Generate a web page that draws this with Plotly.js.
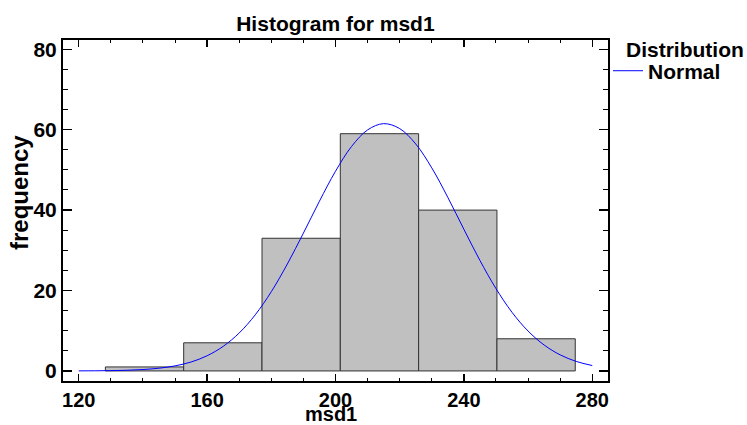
<!DOCTYPE html>
<html>
<head>
<meta charset="utf-8">
<script src="https://cdn.plot.ly/plotly-3.0.1.min.js"></script>
<style>html,body{margin:0;padding:0;background:#fff;}#chart{width:747px;height:425px;}</style>
</head>
<body>
<div id="chart"></div>
<script>
// Histogram bins (left edges), bin width and counts
var binLeftEdges = [128.3, 152.7, 177.1, 201.5, 225.9, 250.3];
var binWidth = 24.4;
var counts = [1, 7, 33, 59, 40, 8];

// Fitted normal curve
var curveX = [120,125,130,135,140,145,150,155,160,165,170,175,180,185,190,195,200,205,210,215,220,225,230,235,240,245,250,255,260,265,270,275,280];
var curveY = [0.02,0.04,0.08,0.17,0.35,0.68,1.26,2.22,3.78,6.11,9.44,13.96,19.71,26.6,34.27,42.21,49.66,55.82,59.94,61.5,60.27,56.44,50.49,43.15,35.23,27.48,20.48,14.58,9.92,6.45,4.0,2.37,1.34];

var xTickVals = [120, 160, 200, 240, 280];
var yTickVals = [0, 20, 40, 60, 80];

var FONT = 'Liberation Sans, Arial, sans-serif';
var boldFont = function(size){ return {family: FONT, size: size, color: '#000', weight: 700}; };

var traces = [
  {
    type: 'bar',
    x: binLeftEdges,
    y: counts,
    width: binLeftEdges.map(function(){ return binWidth; }),
    offset: 0,
    marker: {color: '#c0c0c0', line: {color: '#333333', width: 1}},
    showlegend: false,
    hoverinfo: 'skip'
  },
  {
    type: 'scatter',
    mode: 'lines',
    x: curveX,
    y: curveY,
    name: 'Normal',
    line: {color: '#0000ff', width: 1, shape: 'spline'}
  }
];

var layout = {
  width: 747,
  height: 425,
  margin: {l: 63, r: 139, t: 40, b: 44},
  paper_bgcolor: '#fff',
  plot_bgcolor: '#fff',
  bargap: 0,
  title: {text: 'Histogram for msd1', font: boldFont(21), x: 0.449, xanchor: 'center', y: 0.945, yanchor: 'middle'},
  xaxis: {
    range: [115.1, 284.9],
    tickvals: xTickVals,
    ticktext: xTickVals.map(String),
    ticks: 'inside', ticklen: 7, tickwidth: 1.5, tickcolor: '#000',
    minor: {dtick: 10, tick0: 120, ticks: 'inside', ticklen: 3, tickwidth: 1, tickcolor: '#000'},
    showline: true, linecolor: '#000', linewidth: 2, mirror: 'ticks',
    showgrid: false, zeroline: false,
    tickfont: boldFont(20)
  },
  yaxis: {
    range: [-2.5, 82.3],
    tickvals: yTickVals,
    ticktext: yTickVals.map(String),
    ticks: 'inside', ticklen: 9, tickwidth: 1.5, tickcolor: '#000',
    minor: {dtick: 5, tick0: 0, ticks: 'inside', ticklen: 5, tickwidth: 1, tickcolor: '#000'},
    showline: true, linecolor: '#000', linewidth: 2, mirror: 'ticks',
    showgrid: false, zeroline: false,
    tickfont: boldFont(21)
  },
  showlegend: true,
  legend: {
    x: 1.0, xanchor: 'left', y: 0.969, yanchor: 'top',
    bgcolor: 'rgba(0,0,0,0)', borderwidth: 0,
    font: boldFont(21), itemwidth: 30
  },
  annotations: [
    {text: 'Distribution', xref: 'paper', yref: 'paper', x: 1.0294, xanchor: 'left', y: 0.971, yanchor: 'middle', showarrow: false, font: boldFont(21)},
    {text: 'msd1', xref: 'paper', yref: 'paper', x: 0.4916, xanchor: 'center', y: -0.061, yanchor: 'top', borderpad: 0, showarrow: false, font: boldFont(20)},
    {text: 'frequency', xref: 'paper', yref: 'paper', x: -0.0785, xanchor: 'center', y: 0.552, yanchor: 'middle', textangle: -90, showarrow: false, font: boldFont(24)}
  ]
};

Plotly.newPlot('chart', traces, layout, {displayModeBar: false, staticPlot: true});
</script>
</body>
</html>
